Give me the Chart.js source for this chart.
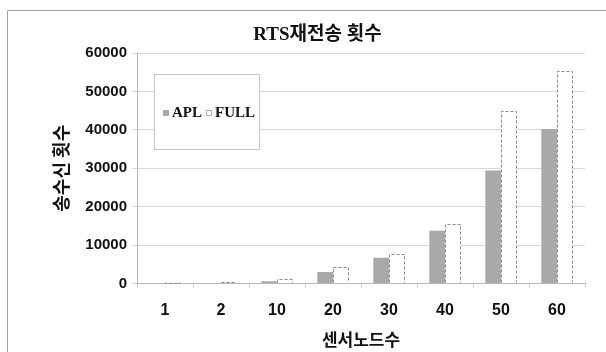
<!DOCTYPE html>
<html>
<head>
<meta charset="utf-8">
<script src="https://cdn.jsdelivr.net/npm/chart.js@4/dist/chart.umd.min.js"></script>
<style>
  html, body { margin: 0; padding: 0; background: #fff; }
  #wrap { width: 606px; height: 352px; position: relative; }
</style>
</head>
<body>
<div id="wrap"><canvas id="c" width="606" height="352"></canvas></div>
<script>
// 센서 노드 수별 RTS 재전송 횟수
const categories = ['1', '2', '10', '20', '30', '40', '50', '60'];
const aplValues  = [120, 130, 600, 3000, 6700, 13700, 29400, 40200];
const fullValues = [250, 280, 1100, 4200, 7700, 15500, 44800, 55400];
const yTickValues = [0, 10000, 20000, 30000, 40000, 50000, 60000];

const KR = "'Noto Sans CJK KR', 'Noto Sans', sans-serif";
const NUM = "'Liberation Sans', Arial, sans-serif";
const SERIF = "'Liberation Serif', 'Noto Sans CJK KR', serif";

// outer frame lines (top and left edges)
const framePlugin = {
  id: 'frame',
  beforeDraw(chart) {
    const ctx = chart.ctx;
    ctx.save();
    ctx.fillStyle = '#fff';
    ctx.fillRect(0, 0, chart.width, chart.height);
    ctx.strokeStyle = '#a0a0a0';
    ctx.lineWidth = 1;
    ctx.beginPath();
    ctx.moveTo(7.5, chart.height);
    ctx.lineTo(7.5, 10.5);
    ctx.lineTo(chart.width, 10.5);
    ctx.stroke();
    ctx.restore();
  }
};

// dashed outline for the hollow series
const dashedBarPlugin = {
  id: 'dashedBars',
  afterDatasetsDraw(chart) {
    const ctx = chart.ctx;
    chart.data.datasets.forEach((ds, i) => {
      if (!ds.dashedOutline) return;
      const meta = chart.getDatasetMeta(i);
      ctx.save();
      ctx.strokeStyle = ds.dashedOutline;
      ctx.lineWidth = 1;
      ctx.setLineDash([3, 2]);
      meta.data.forEach(bar => {
        const p = bar.getProps(['x', 'y', 'base', 'width'], true);
        const l = Math.round(p.x - p.width / 2) + 0.5;
        const r = Math.round(p.x + p.width / 2) - 0.5;
        const t = Math.round(p.y) + 0.5;
        const b = Math.round(p.base) - 0.5;
        ctx.beginPath();
        ctx.moveTo(l, b);
        ctx.lineTo(l, t);
        ctx.lineTo(r, t);
        ctx.lineTo(r, b);
        ctx.stroke();
      });
      ctx.restore();
    });
  }
};

// boxed legend inside the plot area
const boxLegendPlugin = {
  id: 'boxLegend',
  afterDraw(chart) {
    const ctx = chart.ctx;
    const area = chart.chartArea;
    const bx = area.left + 17, by = area.top + 21, bw = 106, bh = 76;
    ctx.save();
    ctx.fillStyle = '#fff';
    ctx.fillRect(bx, by, bw, bh);
    ctx.strokeStyle = '#c8c8c8';
    ctx.lineWidth = 1;
    ctx.strokeRect(bx + 0.5, by + 0.5, bw - 1, bh - 1);
    ctx.font = 'bold 15px ' + SERIF;
    ctx.textBaseline = 'middle';
    let x = bx + 9;
    const cy = by + 39;
    chart.data.datasets.forEach(ds => {
      const sw = 6;
      ctx.fillStyle = ds.backgroundColor;
      ctx.fillRect(x, cy - sw / 2, sw, sw);
      if (ds.dashedOutline) {
        ctx.strokeStyle = '#b0b0b0';
        ctx.strokeRect(x + 0.5, cy - sw / 2 + 0.5, sw - 1, sw - 1);
      }
      x += sw + 3;
      ctx.fillStyle = '#111';
      ctx.fillText(ds.label, x, cy);
      x += ctx.measureText(ds.label).width + 4;
    });
    ctx.restore();
  }
};

new Chart(document.getElementById('c'), {
  type: 'bar',
  data: {
    labels: categories,
    datasets: [
      {
        label: 'APL',
        data: aplValues,
        backgroundColor: '#a9a9a9',
        borderWidth: 0
      },
      {
        label: 'FULL',
        data: fullValues,
        backgroundColor: '#ffffff',
        borderWidth: 0,
        dashedOutline: '#888888'
      }
    ]
  },
  options: {
    responsive: false,
    animation: false,
    events: [],
    layout: { padding: { left: 50, right: 21, top: 0, bottom: 2 } },
    datasets: { bar: { categoryPercentage: 0.56, barPercentage: 1.0 } },
    plugins: {
      legend: { display: false },
      tooltip: { enabled: false },
      title: {
        display: true,
        text: 'RTS재전송 횟수',
        color: '#111',
        font: { family: SERIF, size: 19, weight: 'bold' },
        padding: { top: 24, bottom: 6.2 }
      }
    },
    scales: {
      x: {
        afterFit(scale) { scale.height = 66.5; },
        grid: {
          display: true,
          drawOnChartArea: false,
          drawTicks: true,
          tickLength: 4,
          color: '#c8c8c8'
        },
        border: { display: true, color: '#b8b8b8' },
        ticks: {
          padding: 13,
          color: '#111',
          font: { family: NUM, size: 16, weight: 'bold' }
        },
        title: {
          display: true,
          text: '센서노드수',
          color: '#111',
          font: { family: KR, size: 17, weight: 'bold' },
          padding: { top: 0, bottom: 0 }
        }
      },
      y: {
        min: 0,
        max: 60000,
        afterFit(scale) { scale.width = 87; },
        afterBuildTicks(scale) { scale.ticks = yTickValues.map(v => ({ value: v })); },
        grid: {
          color: '#d8d8d8',
          tickLength: 5,
          drawTicks: true
        },
        border: { display: true, color: '#b8b8b8' },
        ticks: {
          padding: 5,
          color: '#111',
          font: { family: NUM, size: 15, weight: 'bold' },
          callback: v => String(v)
        },
        title: {
          display: true,
          text: '송수신 횟수',
          color: '#111',
          font: { family: KR, size: 18, weight: 'bold' },
          padding: { top: 0, bottom: 0 }
        }
      }
    }
  },
  plugins: [framePlugin, dashedBarPlugin, boxLegendPlugin]
});
</script>
</body>
</html>
